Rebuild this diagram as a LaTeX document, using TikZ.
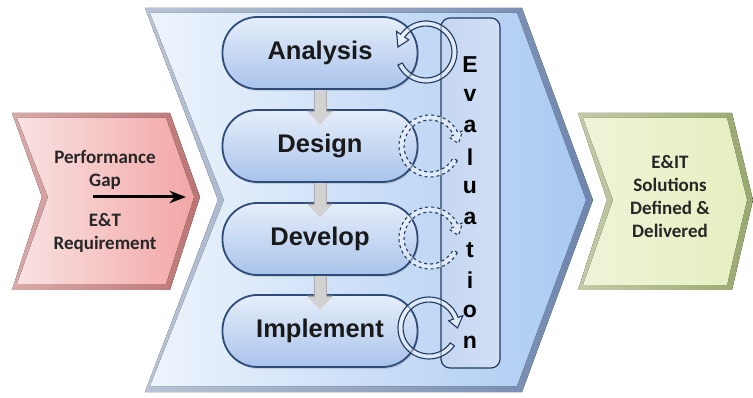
\documentclass[tikz,border=0pt]{standalone}
\usepackage{fontspec}
\setmainfont{Liberation Sans}
\newfontfamily\calibfont{Carlito}
\usetikzlibrary{arrows.meta}
\usetikzlibrary{calc,shadows}

\definecolor{pillline}{HTML}{2E4C7A}
\definecolor{pilltop}{HTML}{E6EEFA}
\definecolor{pillbot}{HTML}{A9C3EB}
\definecolor{loopnavy}{HTML}{22395E}
\definecolor{bigedgeL}{HTML}{B9C4D6}
\definecolor{bigedgeR}{HTML}{6E86AD}
\definecolor{bigfaceL}{HTML}{EDF4FC}
\definecolor{bigfaceR}{HTML}{A9C9F2}
\definecolor{gapedgeL}{HTML}{D9A9A9}
\definecolor{gapedgeR}{HTML}{BC7474}
\definecolor{gapfaceL}{HTML}{F9E2E2}
\definecolor{gapfaceR}{HTML}{F3A6A6}
\definecolor{soledgeL}{HTML}{C3CBA6}
\definecolor{soledgeR}{HTML}{98A86E}
\definecolor{solfaceL}{HTML}{EEF4D8}
\definecolor{solfaceR}{HTML}{E6EFC0}
\definecolor{barL}{HTML}{C4D6F1}
\definecolor{barM}{HTML}{EEF3FB}
\definecolor{barR}{HTML}{D2E0F5}

\tikzset{
  phase/.style={draw=pillline, line width=1.8pt, rounded corners=35pt,
    minimum width=195pt, minimum height=72pt, top color=pilltop, bottom color=pillbot,
    font=\fontsize{25.5}{30}\selectfont\bfseries, text=black!90,
    drop shadow={opacity=0.25, shadow xshift=1pt, shadow yshift=-2pt}},
  flow/.style={line width=11pt, draw=gray!35, -{Triangle[width=22pt,length=12pt]},
    preaction={draw=gray!65, line width=13pt, -{Triangle[width=25pt,length=13.5pt]}}},
  evalbar/.style={draw=loopnavy, line width=1.2pt, rounded corners=9pt,
    minimum width=59pt, minimum height=350pt,
    left color=barL, middle color=barM, right color=barR},
  evalletter/.style={font=\fontsize{23}{26}\selectfont\bfseries, inner sep=0pt},
  solidloop/.style={draw=loopnavy, line width=1.1pt, fill=white, fill opacity=0.45},
  dashloop/.style={solidloop, dashed},
  sidetext/.style={font=\calibfont\bfseries\fontsize{19}{23}\selectfont, align=center, text=black!85}
}

% ring arrow: centre, start angle, end angle, tip angle, style
\newcommand{\evalloop}[5]{%
  \draw[#5] ($(#1)+(#2:31)$) arc[start angle=#2, end angle=#3, radius=31]
    -- ($(#1)+(#3:36)$) -- ($(#1)+(#4:28.5)$) -- ($(#1)+(#3:21)$) -- ($(#1)+(#3:26)$)
    arc[start angle=#3, end angle=#2, radius=26] -- cycle;}

\begin{document}
\begin{tikzpicture}[x=1pt, y=1pt, >=Stealth]
  \useasboundingbox (0,0) rectangle (753,-398);

  % chevrons
  \fill[left color=gapedgeL, right color=gapedgeR] (12,-113) -- (170,-113) -- (200,-197) -- (170,-290) -- (12,-290) -- (42,-197) -- cycle;
  \fill[left color=gapfaceL, right color=gapfaceR] (17,-118) -- (166,-118) -- (194,-197) -- (166,-284) -- (17,-284) -- (48,-197) -- cycle;

  \fill[left color=bigedgeL, right color=bigedgeR] (145,-8) -- (522,-8) -- (593,-200) -- (522,-392) -- (145,-392) -- (218,-200) -- cycle;
  \fill[left color=bigfaceL, right color=bigfaceR] (150,-13) -- (517,-13) -- (586,-200) -- (517,-386) -- (150,-386) -- (224,-200) -- cycle;

  \fill[left color=soledgeL, right color=soledgeR] (578,-113) -- (732,-113) -- (753,-200) -- (732,-290) -- (578,-290) -- (607,-200) -- cycle;
  \fill[left color=solfaceL, right color=solfaceR] (583,-118) -- (727,-118) -- (747,-200) -- (727,-285) -- (583,-285) -- (613,-200) -- cycle;

  % left and right texts
  \node[sidetext] (perf) at (105,-170) {Performance\\Gap};
  \node[sidetext] (req) at (105,-233) {E\&T\\Requirement};
  \coordinate (gapL) at (93,-197);
  \coordinate (gapR) at (186,-197);
  \draw[->, line width=3pt] (gapL) -- (gapR);
  \node[sidetext] (sol) at (670,-197) {E\&IT\\Solutions\\Defined \&\\Delivered};

  % phases
  \node[phase] (ana) at (320,-53) {Analysis};
  \node[phase] (des) at (320,-146) {Design};
  \node[phase] (dev) at (320,-239) {Develop};
  \node[phase] (imp) at (320,-331) {Implement};
  \draw[flow] (ana.south) -- ([yshift=-15pt]des.north);
  \draw[flow] (des.south) -- ([yshift=-15pt]dev.north);
  \draw[flow] (dev.south) -- ([yshift=-15pt]imp.north);

  % evaluation
  \node[evalbar] (evbar) at (470.5,-193) {};
  \foreach \l [count=\i] in {E,v,a,l,u,a,t,i,o,n}
    \node[evalletter] (ev\i) at (470,{-34-30.8*\i}) {\l};

  \coordinate (lpA) at (426,-52);
  \coordinate (lpB) at (430,-146);
  \coordinate (lpC) at (430,-238);
  \coordinate (lpD) at (429,-328);
  \evalloop{lpA}{205}{505}{530}{solidloop}
  \evalloop{lpB}{-28}{-335}{-355}{dashloop}
  \evalloop{lpC}{-28}{-335}{-355}{dashloop}
  \evalloop{lpD}{-35}{-340}{-360}{solidloop}
\end{tikzpicture}
\end{document}
